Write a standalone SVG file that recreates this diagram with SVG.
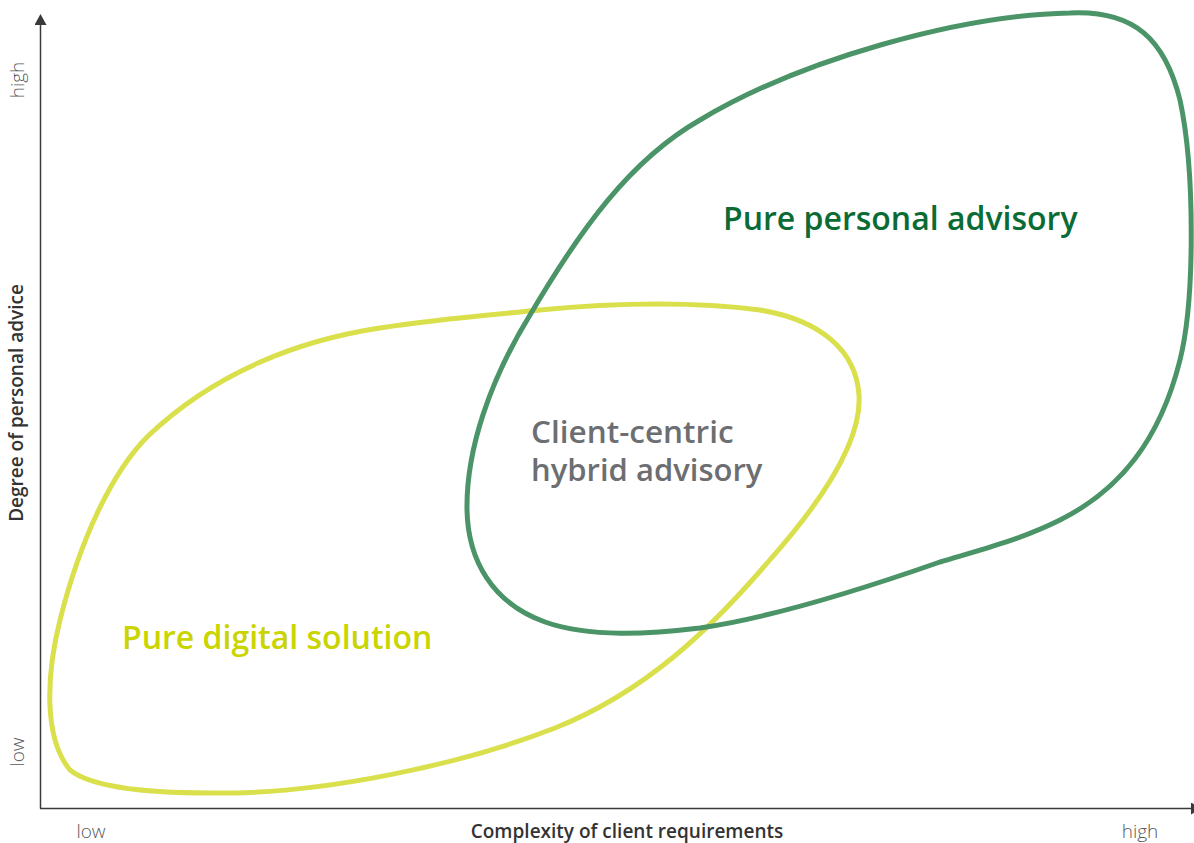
<svg xmlns="http://www.w3.org/2000/svg" width="1194" height="843" viewBox="0 0 1194 843">
<style>
.axis{stroke:#3a3a3c;stroke-width:1.5;fill:none}
.tick{font-family:"Open Sans","Liberation Sans",sans-serif;font-weight:300;font-size:19px;fill:#58595b}
.title{font-family:"Open Sans","Liberation Sans",sans-serif;font-weight:600;font-size:19px;fill:#333333}
.lbl{font-family:"Open Sans","Liberation Sans",sans-serif;font-weight:600;font-size:32px}
.blob{fill:none;stroke-width:5}
</style>
<defs>
<marker id="arr" viewBox="0 0 12 12" refX="1" refY="6" markerWidth="12" markerHeight="12" markerUnits="userSpaceOnUse" orient="auto">
<path d="M0,0 L11,6 L0,12 Z" fill="#3a3a3c"/>
</marker>
</defs>
<rect width="1194" height="843" fill="#ffffff"/>
<g id="connectors">
<path id="yellow-blob" class="blob" stroke="#d9e04c" d="M 210,793 C 320,795 460,765 555,728 C 645,692 710,630 768,562 C 825,498 862,440 859,395 C 856,350 820,320 760,310 C 700,302 620,302 540,310 C 480,316 430,320 380,328 C 300,340 215,372 148,436 C 112,472 80,540 60,620 C 45,680 45,740 70,770 C 95,790 160,793 210,793 Z"/>
<path id="green-blob" class="blob" stroke="#4a9468" d="M 1070,13 C 1135,10 1165,40 1180,100 C 1195,170 1195,300 1180,360 C 1160,440 1120,490 1060,520 C 1020,540 980,550 940,562 C 860,590 770,618 700,628 C 650,634 590,638 545,622 C 492,603 468,560 467,510 C 466,450 490,380 530,315 C 580,230 630,160 700,120 C 800,60 960,15 1070,13 Z"/>
<path id="y-axis" class="axis" d="M40.5,808.5 V24" marker-end="url(#arr)"/>
<path id="x-axis" class="axis" d="M40,808.5 H1192" marker-end="url(#arr)"/>
</g>
<g id="axis-labels">
<text class="tick" transform="translate(24,80) rotate(-90)" text-anchor="middle">high</text>
<text class="tick" transform="translate(24,752) rotate(-90)" text-anchor="middle">low</text>
<text class="tick" x="91" y="838" text-anchor="middle">low</text>
<text class="tick" x="1140" y="838" text-anchor="middle">high</text>
<text class="title" x="627" y="838" text-anchor="middle">Complexity of client requirements</text>
<text class="title" transform="translate(23,403) rotate(-90)" text-anchor="middle">Degree of personal advice</text>
</g>
<g id="node-personal">
<text class="lbl" x="723" y="230" fill="#0b6b35">Pure personal advisory</text>
</g>
<g id="node-digital">
<text class="lbl" x="122" y="649" fill="#c9d400">Pure digital solution</text>
</g>
<g id="node-hybrid">
<text class="lbl" x="531" y="443" fill="#6d6e71" style="font-size:31.5px">Client-centric</text>
<text class="lbl" x="531" y="481" fill="#6d6e71" style="font-size:31px">hybrid advisory</text>
</g>
</svg>
